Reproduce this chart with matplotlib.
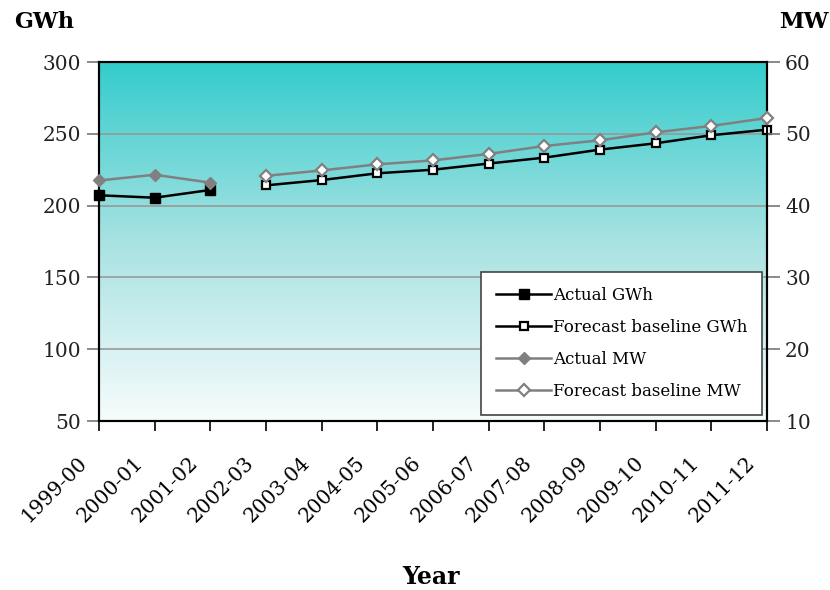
import numpy as np
import matplotlib
matplotlib.use("Agg")
import matplotlib.pyplot as plt
import matplotlib.transforms as mtransforms
from matplotlib.colors import LinearSegmentedColormap

years = ["1999-00", "2000-01", "2001-02", "2002-03", "2003-04", "2004-05",
         "2005-06", "2006-07", "2007-08", "2008-09", "2009-10", "2010-11", "2011-12"]

actual_gwh = [207.2, 205.5, 210.9]
forecast_gwh = [214.1, 217.8, 222.5, 225.0, 229.3, 233.4, 239.0, 243.4, 249.0, 252.9]
actual_mw = [43.5, 44.3, 43.2]
forecast_mw = [44.15, 44.9, 45.75, 46.3, 47.2, 48.3, 49.1, 50.2, 51.1, 52.2]

left_ticks = [50, 100, 150, 200, 250, 300]
right_ticks = [10, 20, 30, 40, 50, 60]

plt.rcParams["font.family"] = ["DejaVu Serif"]

fig = plt.figure(figsize=(8.3, 5.9), dpi=100)
ax = fig.add_axes([0.1193, 0.2864, 0.8048, 0.6085])
ax2 = ax.twinx()

x = np.arange(len(years))
xa = x[:len(actual_gwh)]
xf = x[len(actual_gwh):]

# vertical gradient background: teal at top fading to white
cmap = LinearSegmentedColormap.from_list("bg", ["#f7fcfc", "#a8e2e2", "#33cccc"])
grad = np.linspace(0, 1, 256).reshape(-1, 1)
ax.imshow(grad, cmap=cmap, aspect="auto", origin="lower",
          extent=[0, 1, 0, 1], transform=ax.transAxes, zorder=0)

ax.set_xlim(0, len(years) - 1)
ax.set_ylim(50, 300)
ax2.set_ylim(10, 60)

for v in left_ticks[1:-1]:
    ax.axhline(v, color="#999999", lw=1.2, zorder=1)

l1, = ax.plot(xa, actual_gwh, color="black", lw=1.8, marker="s", ms=6.5,
              mfc="black", mec="black", clip_on=False, zorder=4, label="Actual GWh")
l2, = ax.plot(xf, forecast_gwh, color="black", lw=1.8, marker="s", ms=6,
              mfc="white", mec="black", mew=1.6, clip_on=False, zorder=4,
              label="Forecast baseline GWh")
l3, = ax2.plot(xa, actual_mw, color="#808080", lw=1.8, marker="D", ms=6.5,
               mfc="#808080", mec="#808080", clip_on=False, zorder=4, label="Actual MW")
l4, = ax2.plot(xf, forecast_mw, color="#808080", lw=1.8, marker="D", ms=6,
               mfc="white", mec="#808080", mew=1.6, clip_on=False, zorder=4,
               label="Forecast baseline MW")

ax.set_xticks(x)
ax.set_xticklabels(years, rotation=45, ha="right", va="center",
                   rotation_mode="anchor", fontsize=14.5)
ax.tick_params(axis="x", length=7, width=1.2, color="black", pad=0)
shift = mtransforms.ScaledTranslation(-0.15, -0.29, fig.dpi_scale_trans)
for lab in ax.get_xticklabels():
    lab.set_transform(lab.get_transform() + shift)

ax.set_yticks(left_ticks)
ax.tick_params(axis="y", length=9, width=1.2, color="#777777", labelsize=14.5,
               labelcolor="#222222", pad=4)
ax2.set_yticks(right_ticks)
ax2.tick_params(axis="y", length=9, width=1.2, color="#777777", labelsize=14.5,
                labelcolor="#222222", pad=4)

for a in (ax, ax2):
    for s in a.spines.values():
        s.set_color("black")
        s.set_linewidth(1.5)

fig.text(0.017, 0.962, "GWh", fontsize=16, fontweight="bold", ha="left", va="center")
fig.text(0.998, 0.962, "MW", fontsize=16, fontweight="bold", ha="right", va="center")
fig.text(0.519, 0.022, "Year", fontsize=17, fontweight="bold", ha="center", va="center")

leg = ax2.legend(handles=[l1, l2, l3, l4], loc="lower right",
                 bbox_to_anchor=(0.993, 0.018), frameon=True, fancybox=False,
                 prop={"family": "DejaVu Serif", "size": 12},
                 handlelength=3.3, handletextpad=0.1, labelspacing=0.9,
                 borderpad=0.9, borderaxespad=0)
leg.get_frame().set_edgecolor("#444444")
leg.get_frame().set_linewidth(1.2)
leg.get_frame().set_facecolor("white")
leg.get_frame().set_alpha(1)
leg.set_zorder(10)

fig.savefig("out.png", dpi=100)
